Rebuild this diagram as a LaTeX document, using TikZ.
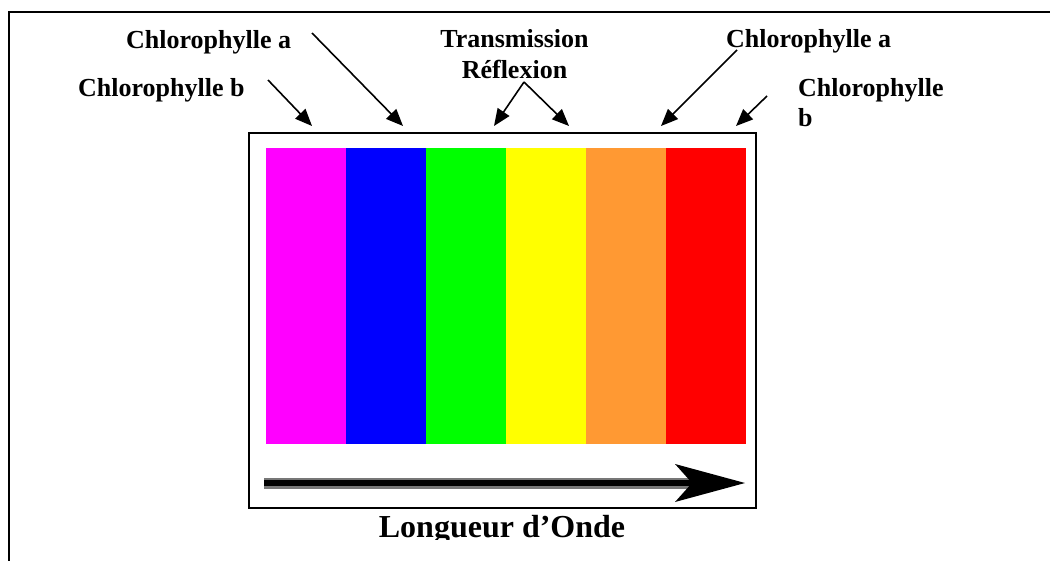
\documentclass[tikz,border=0pt]{standalone}
\usepackage{fontspec}
\setmainfont{Liberation Serif}
\usetikzlibrary{arrows.meta}

\definecolor{bandMagenta}{HTML}{FF00FF}
\definecolor{bandBlue}{HTML}{0000FF}
\definecolor{bandGreen}{HTML}{00FF00}
\definecolor{bandYellow}{HTML}{FFFF00}
\definecolor{bandOrange}{HTML}{FF9933}
\definecolor{bandRed}{HTML}{FF0000}
\definecolor{shaftEdge}{HTML}{777777}

\begin{document}
\begin{tikzpicture}[x=1pt,y=-1pt,
  lbl/.style={font=\fontsize{26}{30}\selectfont\bfseries, inner sep=0pt, anchor=base west},
  axislbl/.style={font=\fontsize{32}{36}\selectfont\bfseries, inner sep=0pt, anchor=base},
  ptr/.style={line width=1.6pt, -{Triangle[length=17pt,width=14pt]}},
  frameline/.style={line width=2.5pt},
  panelline/.style={line width=2pt}]

\useasboundingbox (0,0) rectangle (1051,561);

% outer frame (top and left sides only)
\draw[frameline] (9,561) -- (9,12) -- (1050,12);

% spectrum panel
\draw[panelline] (249,133) rectangle (756,508);

% colour bands
\foreach \c [count=\i from 0] in {bandMagenta,bandBlue,bandGreen,bandYellow,bandOrange,bandRed}
  \fill[\c] ({266+80*\i},148) rectangle ({266+80*(\i+1)-0.5},444);

% wavelength arrow
\fill[shaftEdge] (264,478) rectangle (693,489);
\fill[black] (264,480) rectangle (693,486);
\fill[black] (675,464) -- (745,483) -- (675,502) -- (692,483) -- cycle;

% axis caption, cut at the bottom
\begin{scope}
  \clip (0,0) rectangle (1051,539);
  \node[axislbl] (axis) at (502,537) {Longueur d’Onde};
\end{scope}

% labels
\node[lbl] (chlaL) at (126,49) {Chlorophylle a};
\node[lbl] (chlbL) at (78,97) {Chlorophylle b};
\node[lbl, anchor=base] (trans) at (514.5,48) {Transmission};
\node[lbl, anchor=base] (refl) at (514.5,79) {Réflexion};
\node[lbl] (chlaR) at (726,48) {Chlorophylle a};
% two-line label: the base anchor sits on its last line
\node[lbl, align=left] (chlbR) at (798,127) {Chlorophylle\\b};

% pointer ends
\coordinate (bLtail) at (268,80);   \coordinate (bLtip) at (312,126);
\coordinate (aLtail) at (312,33);   \coordinate (aLtip) at (403,126);
\coordinate (trTail) at (524,82);
\coordinate (trTipL) at (494,126);  \coordinate (trTipR) at (569,126);
\coordinate (aRtail) at (737,50);   \coordinate (aRtip) at (661,126);
\coordinate (bRtail) at (767,96);   \coordinate (bRtip) at (736,126);

\draw[ptr] (bLtail) -- (bLtip);
\draw[ptr] (aLtail) -- (aLtip);
\draw[ptr] (trTail) -- (trTipL);
\draw[ptr] (trTail) -- (trTipR);
\draw[ptr] (aRtail) -- (aRtip);
\draw[ptr] (bRtail) -- (bRtip);
\end{tikzpicture}
\end{document}
